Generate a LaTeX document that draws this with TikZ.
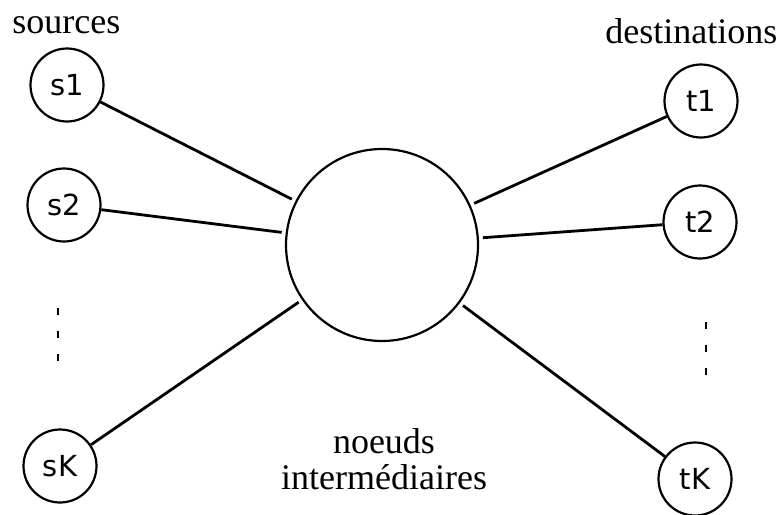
\documentclass[tikz,border=0pt]{standalone}
\usepackage{fontspec}
\setmainfont{Liberation Serif}
\newfontfamily\labelfont{DejaVu Sans}

\begin{document}
\begin{tikzpicture}[x=0.5pt,y=-0.5pt,
    term/.style={draw,circle,line width=1.1pt,minimum size=36.5pt,inner sep=0pt,
      font=\labelfont\fontsize{14.5}{14.5}\selectfont},
    hub/.style={draw,circle,line width=1.1pt,minimum size=96pt,inner sep=0pt},
    link/.style={line width=1.4pt,shorten >=2pt},
    etc/.style={line width=1.4pt,dash pattern=on 3.5pt off 8pt},
    caption/.style={font=\fontsize{18}{18}\selectfont,inner sep=0pt,anchor=base}]
  \useasboundingbox (0,0) rectangle (781,514);

  % sources
  \node [term] (s1) at (67,85) {s1};
  \node [term] (s2) at (64,205) {s2};
  \node [term] (sK) at (60,466) {sK};

  % destinations
  \node [term] (t1) at (701,101) {t1};
  \node [term] (t2) at (700,222) {t2};
  \node [term] (tK) at (695,479) {tK};

  \node [hub] (mid) at (382,245) {};

  \node [caption,anchor=base west] (src) at (12,33) {sources};
  \node [caption,anchor=base west] (dst) at (605,43) {destinations};
  \node [caption,align=center,anchor=north] (inter) at (384,428) {noeuds\\intermédiaires};

  \draw[link] (s1) -- (mid);
  \draw[link] (s2) -- (mid);
  \draw[link] (sK) -- (mid);
  \draw[link] (t1) -- (mid);
  \draw[link] (t2) -- (mid);
  \draw[link] (tK) -- (mid);

  \draw[etc] (58,308) -- (58,362);
  \draw[etc] (706,322) -- (706,378);
\end{tikzpicture}
\end{document}
